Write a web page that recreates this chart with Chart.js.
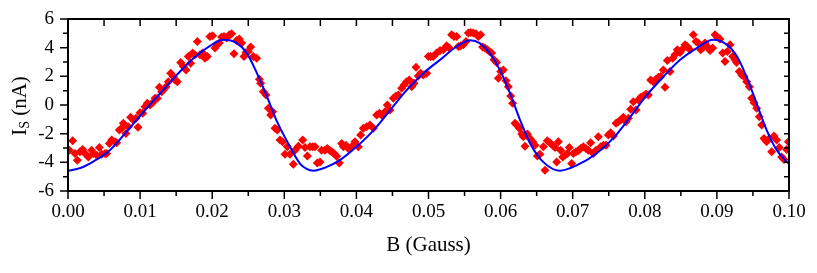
<!DOCTYPE html>
<html>
<head>
<meta charset="utf-8">
<script src="https://cdn.jsdelivr.net/npm/chart.js@4/dist/chart.umd.min.js"></script>
<style>
  html, body { margin: 0; padding: 0; background: #fff; }
</style>
</head>
<body>
<canvas id="chart" width="817" height="273"></canvas>
<script>
// measured points: field B (Gauss) and current Is (nA)
const measB = [
  0.00018, 0.00065, 0.00097, 0.00129, 0.00166, 0.00203, 0.00236, 0.00282, 0.00328, 0.00351,
  0.00398, 0.00435, 0.00467, 0.00513, 0.00536, 0.00573, 0.00606, 0.00652, 0.00675, 0.00712,
  0.00744, 0.00767, 0.00804, 0.00837, 0.00869, 0.00906, 0.00943, 0.00971, 0.00999, 0.01036,
  0.01068, 0.01100, 0.01137, 0.01174, 0.01207, 0.01239, 0.01267, 0.01299, 0.01322, 0.01359,
  0.01392, 0.01424, 0.01461, 0.01484, 0.01516, 0.01563, 0.01600, 0.01637, 0.01669, 0.01701,
  0.01729, 0.01761, 0.01794, 0.01831, 0.01868, 0.01900, 0.01932, 0.01969, 0.02006, 0.02039,
  0.02062, 0.02099, 0.02131, 0.02164, 0.02201, 0.02238, 0.02270, 0.02302, 0.02339, 0.02376,
  0.02409, 0.02441, 0.02469, 0.02501, 0.02534, 0.02570, 0.02617, 0.02654, 0.02672, 0.02709,
  0.02746, 0.02779, 0.02811, 0.02839, 0.02871, 0.02903, 0.02940, 0.02977, 0.03010, 0.03042,
  0.03079, 0.03125, 0.03148, 0.03195,
  0.03255, 0.03287, 0.03320, 0.03356, 0.03393, 0.03426, 0.03458, 0.03495, 0.03518, 0.03564,
  0.03597, 0.03625, 0.03657, 0.03689, 0.03726, 0.03763, 0.03796, 0.03819, 0.03856, 0.03888,
  0.03934, 0.03980, 0.04027, 0.04059, 0.04096, 0.04142, 0.04189, 0.04235, 0.04281, 0.04318,
  0.04350, 0.04397, 0.04429, 0.04466, 0.04512, 0.04549, 0.04582, 0.04628, 0.04660, 0.04697,
  0.04734, 0.04767, 0.04799, 0.04827, 0.04859, 0.04891, 0.04928, 0.04975, 0.04998, 0.05030,
  0.05067, 0.05113, 0.05160, 0.05206, 0.05252, 0.05289, 0.05321, 0.05354, 0.05391, 0.05414,
  0.05446, 0.05483, 0.05520, 0.05552, 0.05585, 0.05622, 0.05659, 0.05691, 0.05723, 0.05751,
  0.05784, 0.05816, 0.05844, 0.05876, 0.05908, 0.05945, 0.05969, 0.06001, 0.06038, 0.06075,
  0.06107, 0.06140, 0.06167, 0.06200, 0.06223, 0.06260, 0.06292, 0.06315, 0.06338, 0.06371,
  0.06408, 0.06445, 0.06477, 0.06510,
  0.06546, 0.06593, 0.06616, 0.06648, 0.06685, 0.06722, 0.06755, 0.06778, 0.06801, 0.06833,
  0.06861, 0.06893, 0.06926, 0.06953, 0.06986, 0.07009, 0.07046, 0.07078, 0.07111, 0.07147,
  0.07184, 0.07217, 0.07249, 0.07286, 0.07323, 0.07355, 0.07388, 0.07425, 0.07462, 0.07494,
  0.07527, 0.07564, 0.07601, 0.07633, 0.07665, 0.07702, 0.07739, 0.07772, 0.07804, 0.07841,
  0.07878, 0.07910, 0.07943, 0.07980, 0.08017, 0.08049, 0.08081, 0.08118, 0.08155, 0.08188,
  0.08220, 0.08257, 0.08280, 0.08312, 0.08350, 0.08387, 0.08419, 0.08451, 0.08488, 0.08525,
  0.08558, 0.08590, 0.08627, 0.08673, 0.08710, 0.08742, 0.08775, 0.08803, 0.08835, 0.08867,
  0.08904, 0.08941, 0.08974, 0.09006, 0.09043, 0.09080, 0.09112, 0.09145, 0.09182, 0.09219,
  0.09251, 0.09274, 0.09311, 0.09344, 0.09376, 0.09413, 0.09450, 0.09482, 0.09515, 0.09552,
  0.09588, 0.09621, 0.09653, 0.09690, 0.09727, 0.09760, 0.09792, 0.09829, 0.09866, 0.09898,
  0.09931, 0.09968, 0.09991
];
const measI = [
  -3.15, -2.50, -3.38, -3.85, -3.27, -3.10, -3.38, -3.62, -3.15, -3.38,
  -3.50, -2.96, -3.43, -3.38, -3.38, -2.68, -2.45, -2.57, -2.64, -1.75,
  -1.63, -1.28, -1.98, -1.52, -0.86, -1.05, -0.93, -1.56, -0.54, -0.58,
  -0.12, 0.12, 0.00, 0.16, 0.47, 0.47, 1.24, 0.93, 1.05, 1.28,
  1.63, 2.22, 1.98, 1.75, 1.63, 2.96, 2.68, 2.45, 3.38, 2.92,
  3.62, 3.50, 4.43, 3.50, 3.62, 3.27, 3.38, 4.78, 4.83, 3.97,
  4.20, 4.32, 4.74, 4.78, 4.67, 4.90, 4.97, 3.57, 4.50, 4.60,
  4.32, 3.38, 3.66, 3.73, 4.04, 3.38, 3.27, 1.80, 1.52, 0.93,
  0.70, -0.23, -0.70, -0.47, -1.63, -1.75, -2.45, -2.57, -3.43, -2.92,
  -3.43, -4.13, -3.15, -2.87,
  -2.45, -2.96, -3.55, -2.92, -2.92, -2.92, -4.04, -3.97, -3.15, -3.15,
  -3.03, -3.15, -3.27, -3.38, -3.57, -4.04, -2.68, -2.92, -2.80, -3.03,
  -2.92, -2.57, -2.92, -2.10, -1.63, -1.52, -1.40, -1.63, -0.70, -0.58,
  -0.70, -0.47, 0.00, -0.35, 0.47, 0.63, 0.70, 1.17, 1.40, 1.63,
  1.75, 1.28, 1.52, 2.64, 2.03, 2.22, 2.10, 2.22, 3.38, 3.38,
  3.38, 3.62, 3.80, 3.85, 4.13, 3.97, 4.90, 4.78, 4.78, 4.09,
  4.13, 4.20, 4.43, 5.02, 5.06, 5.02, 4.97, 4.78, 4.90, 4.04,
  3.97, 3.85, 3.73, 3.62, 3.15, 2.96, 1.87, 2.33, 2.45, 1.70,
  1.28, 0.63, 0.12, -1.28, -1.40, -1.63, -2.03, -2.22, -2.87, -2.03,
  -2.33, -2.57, -2.80, -3.55,
  -3.43, -2.92, -4.55, -2.50, -2.64, -2.80, -2.96, -3.97, -2.57, -3.15,
  -3.62, -3.50, -3.38, -2.96, -4.09, -3.38, -3.27, -3.20, -3.03, -2.92,
  -3.03, -3.15, -2.64, -3.38, -3.15, -2.22, -2.92, -2.80, -2.80, -2.10,
  -1.94, -2.17, -1.28, -1.17, -1.05, -0.86, -1.17, -0.93, -0.30, 0.23,
  -0.35, 0.35, 0.54, 0.63, 0.77, 0.70, 1.75, 1.63, 1.80, 1.94,
  1.98, 2.45, 1.24, 3.10, 2.33, 3.27, 3.50, 3.85, 3.66, 3.90,
  4.20, 4.09, 3.85, 4.90, 4.43, 4.32, 3.85, 3.97, 4.32, 4.09,
  3.80, 3.97, 4.90, 4.74, 4.60, 3.62, 3.03, 3.73, 4.20, 3.38,
  3.15, 2.96, 2.33, 2.10, 1.98, 1.63, 1.28, 0.47, 0.16, -0.23,
  -0.82, -1.40, -2.33, -2.57, -2.33, -3.27, -2.17, -2.45, -2.96, -3.62,
  -3.80, -3.10, -2.57
];

// fitted curve
const fitB = [
  0.0000, 0.0017, 0.0035, 0.0058, 0.0081, 0.0105, 0.0128, 0.0151, 0.0174, 0.0197,
  0.0215, 0.0234, 0.0248, 0.0262, 0.0276, 0.0289, 0.0303, 0.0322, 0.0331, 0.0340,
  0.0359, 0.0377, 0.0400, 0.0424, 0.0447, 0.0470, 0.0493, 0.0516, 0.0539, 0.0558,
  0.0571, 0.0585, 0.0599, 0.0613, 0.0627, 0.0641, 0.0659, 0.0682, 0.0706, 0.0733,
  0.0756, 0.0780, 0.0803, 0.0826, 0.0849, 0.0872, 0.0895, 0.0914, 0.0928, 0.0941,
  0.0955, 0.0969, 0.0983, 0.1000
];
const fitI = [
  -4.58, -4.40, -3.95, -3.15, -1.87, -0.47, 0.82, 2.10, 3.27, 4.13,
  4.55, 4.32, 3.62, 2.22, 0.58, -1.05, -2.45, -4.10, -4.45, -4.58,
  -4.32, -3.85, -2.92, -1.75, -0.35, 1.05, 2.22, 3.15, 4.08, 4.52,
  4.32, 3.62, 2.45, 0.82, -1.05, -2.68, -3.97, -4.58, -4.20, -3.38,
  -2.33, -0.82, 0.70, 1.98, 3.15, 3.97, 4.55, 4.20, 3.38, 1.98,
  0.12, -1.75, -3.15, -4.13
];

const xTickLabels = ['0.00', '0.01', '0.02', '0.03', '0.04', '0.05', '0.06', '0.07', '0.08', '0.09', '0.10'];
const yTickLabels = ['-6', '-4', '-2', '0', '2', '4', '6'];

const serif = '"Liberation Serif", "Times New Roman", serif';

// frame + tick marks (bottom/left outside, top/right inside), and the axis titles
const framePlugin = {
  id: 'frame',
  afterDraw(chart) {
    const { ctx, chartArea: a, scales: { x, y } } = chart;
    ctx.save();
    ctx.strokeStyle = '#000';
    ctx.lineWidth = 1.5;
    ctx.beginPath();
    for (let i = 0; i <= 20; i++) {
      const px = x.getPixelForValue(i * 0.005);
      const len = i % 2 === 0 ? 8 : 5;
      ctx.moveTo(px, a.bottom); ctx.lineTo(px, a.bottom + len);
      ctx.moveTo(px, a.top); ctx.lineTo(px, a.top + 7);
    }
    for (let v = -6; v <= 6; v++) {
      const py = y.getPixelForValue(v);
      const len = v % 2 === 0 ? 8 : 5;
      ctx.moveTo(a.left, py); ctx.lineTo(a.left - len, py);
      ctx.moveTo(a.right, py); ctx.lineTo(a.right - 5, py);
    }
    ctx.stroke();
    ctx.lineWidth = 2;
    ctx.strokeRect(a.left, a.top, a.right - a.left, a.bottom - a.top);

    // x title
    ctx.fillStyle = '#000';
    ctx.font = '21px ' + serif;
    ctx.textAlign = 'center';
    ctx.textBaseline = 'alphabetic';
    ctx.fillText('B (Gauss)', (a.left + a.right) / 2, 251);

    // y title: I with subscript S, rotated
    ctx.translate(26, (a.top + a.bottom) / 2 + 1);
    ctx.rotate(-Math.PI / 2);
    ctx.textAlign = 'left';
    ctx.font = '21px ' + serif;
    const wI = ctx.measureText('I').width;
    const rest = ' (nA)';
    const wR = ctx.measureText(rest).width;
    ctx.font = '14px ' + serif;
    const wS = ctx.measureText('S').width;
    let cx = -(wI + wS + wR) / 2;
    ctx.font = '21px ' + serif;
    ctx.fillText('I', cx, 0);
    cx += wI;
    ctx.font = '14px ' + serif;
    ctx.fillText('S', cx, 3);
    cx += wS;
    ctx.font = '21px ' + serif;
    ctx.fillText(rest, cx, 0);
    ctx.restore();
  }
};

new Chart(document.getElementById('chart'), {
  type: 'scatter',
  data: {
    datasets: [
      {
        label: 'fit',
        data: fitB.map((b, i) => ({ x: b, y: fitI[i] })),
        showLine: true,
        borderColor: '#0000ff',
        borderWidth: 2,
        pointRadius: 0,
        cubicInterpolationMode: 'monotone',
        order: 0
      },
      {
        label: 'data',
        data: measB.map((b, i) => ({ x: b, y: measI[i] })),
        pointStyle: 'rectRot',
        pointRadius: 4.5,
        pointBackgroundColor: '#ff0000',
        pointBorderWidth: 0,
        borderColor: '#ff0000',
        order: 1
      }
    ]
  },
  options: {
    responsive: false,
    animation: false,
    layout: { padding: { top: 19, right: 28, left: 0, bottom: 0 } },
    plugins: { legend: { display: false }, tooltip: { enabled: false } },
    scales: {
      x: {
        type: 'linear',
        min: 0,
        max: 0.1,
        afterFit: s => {
          s.height = 82;
          s.paddingLeft = 0;
          s.paddingRight = 0;
        },
        afterBuildTicks: s => {
          s.ticks = xTickLabels.map(t => ({ value: parseFloat(t) }));
        },
        grid: { display: false, drawTicks: false },
        border: { display: false },
        ticks: {
          padding: 10,
          color: '#000',
          font: { family: serif, size: 19 },
          maxRotation: 0,
          callback: v => v.toFixed(2)
        }
      },
      y: {
        min: -6,
        max: 6,
        afterFit: s => {
          s.width = 68;
          s.paddingTop = 0;
          s.paddingBottom = 0;
        },
        afterBuildTicks: s => {
          s.ticks = yTickLabels.map(t => ({ value: parseFloat(t) }));
        },
        grid: { display: false, drawTicks: false },
        border: { display: false },
        ticks: {
          padding: 14,
          color: '#000',
          font: { family: serif, size: 19 },
          callback: v => String(v)
        }
      }
    }
  },
  plugins: [framePlugin]
});
</script>
</body>
</html>
